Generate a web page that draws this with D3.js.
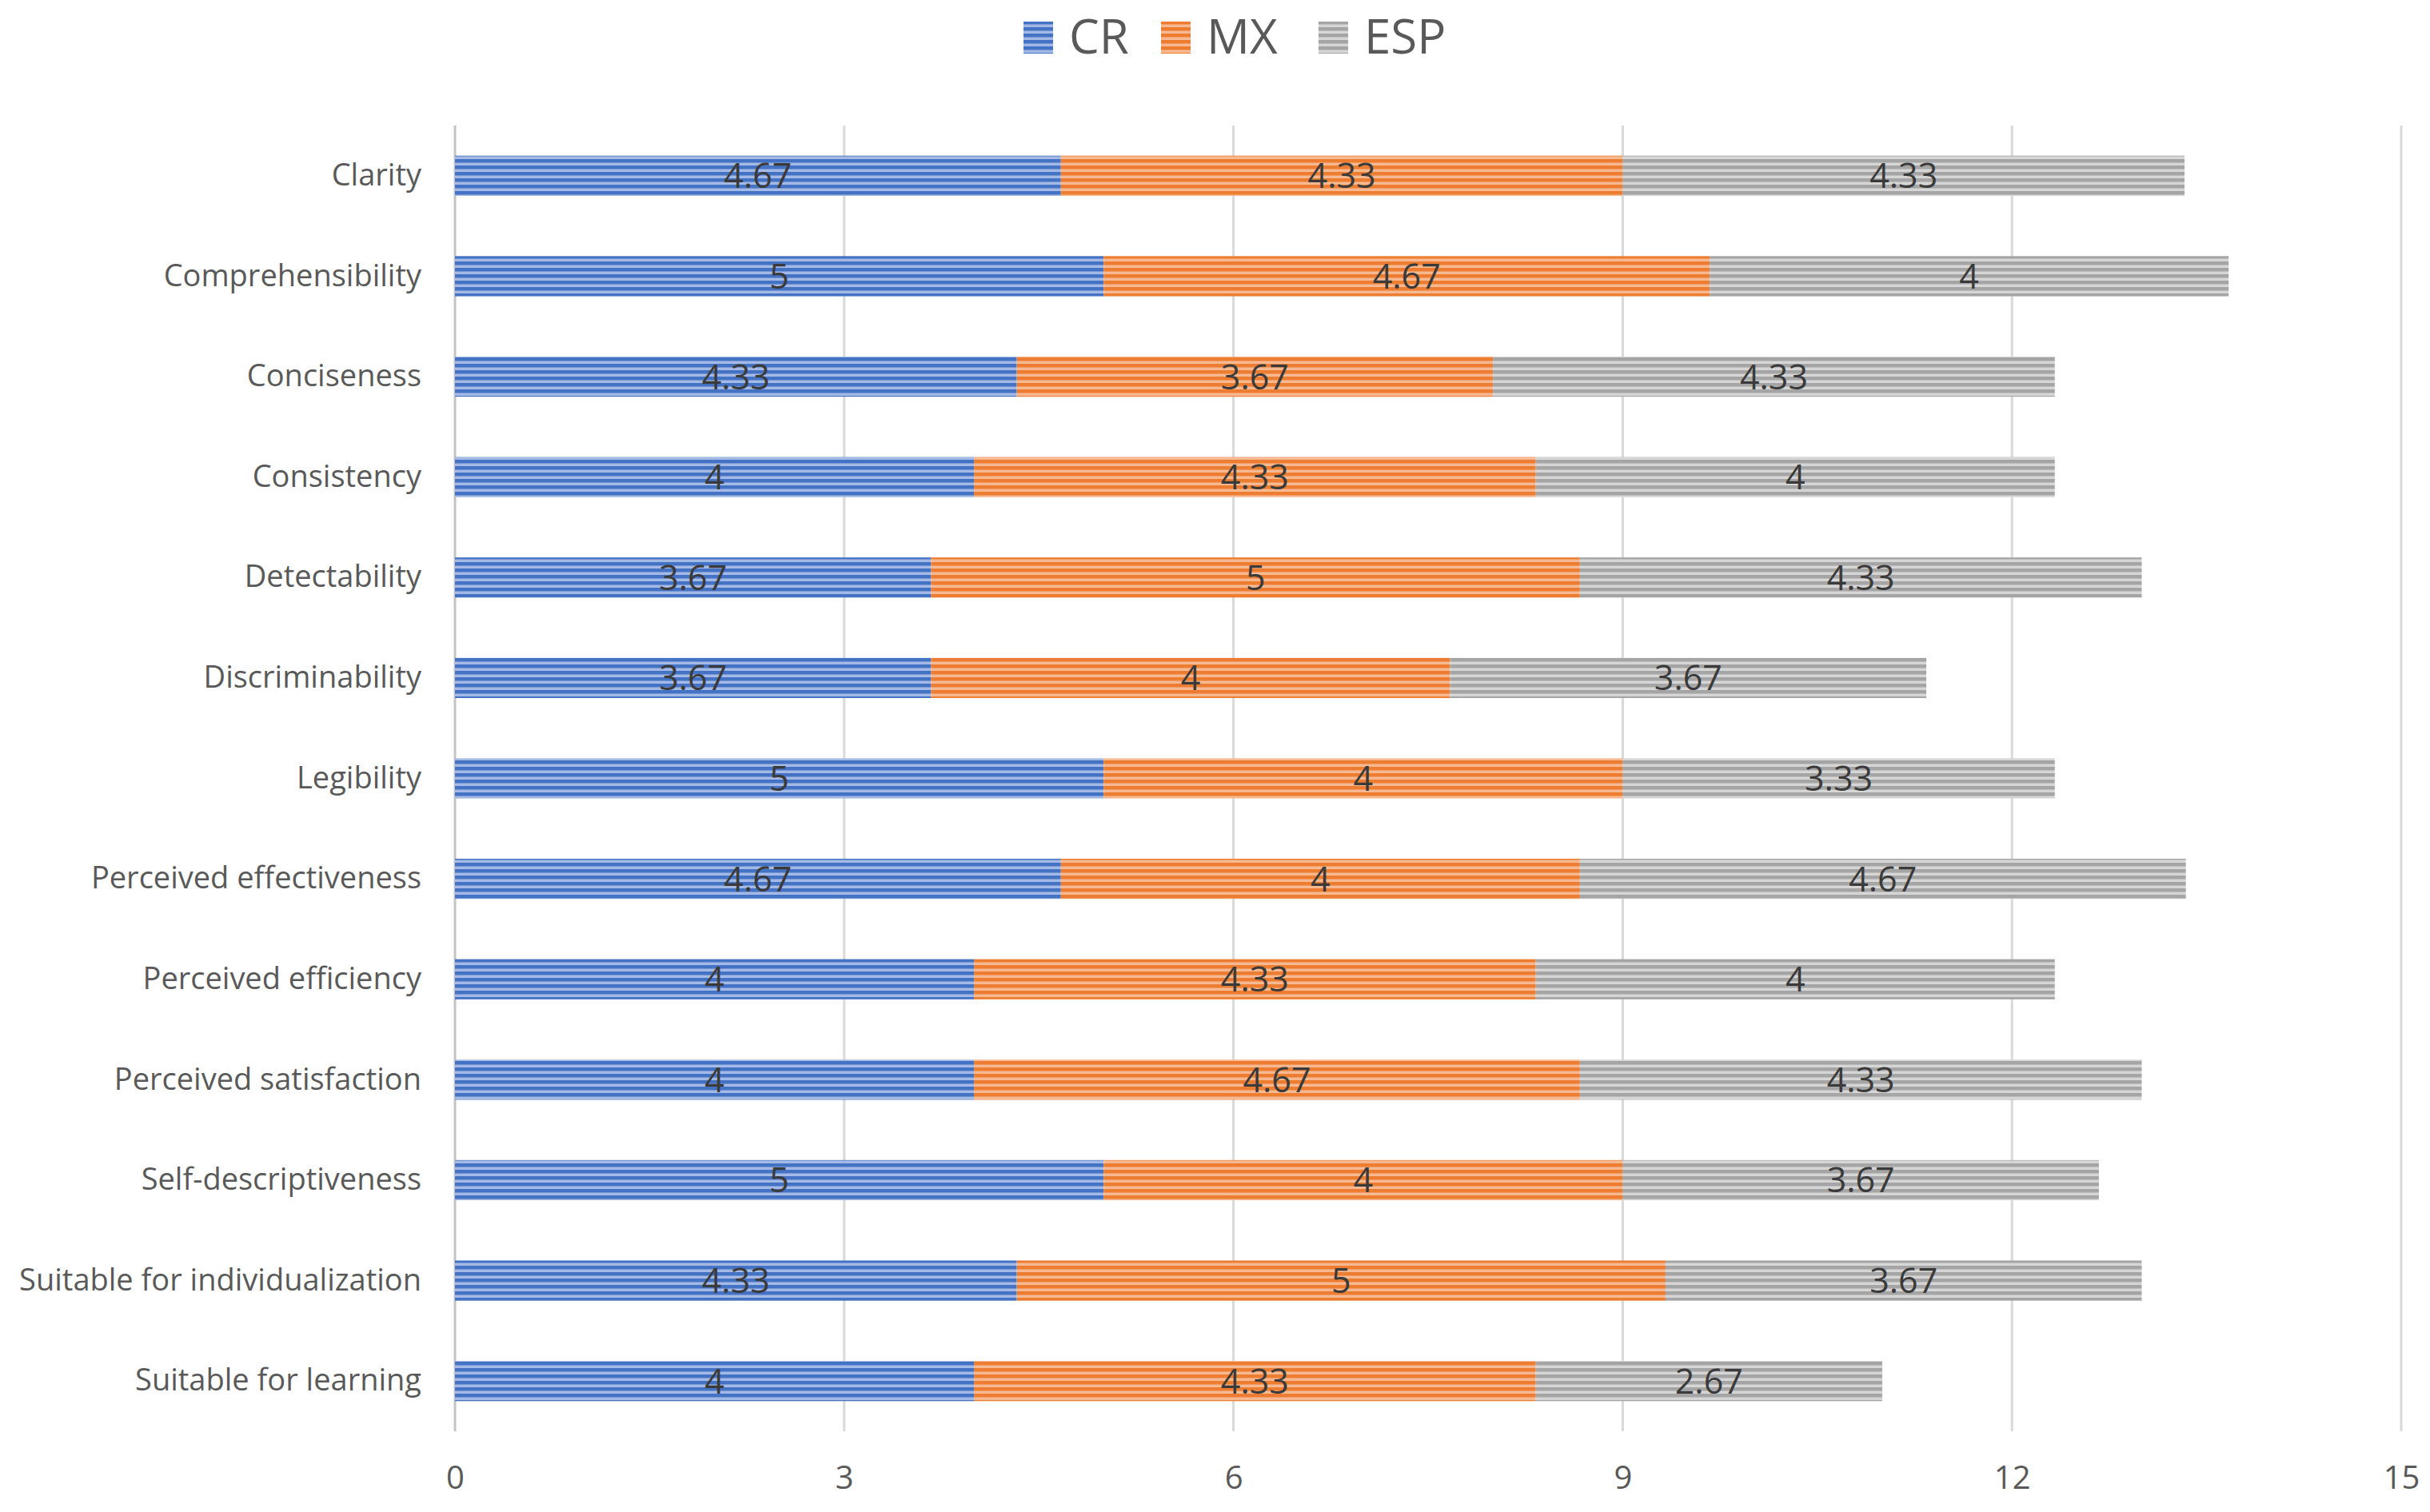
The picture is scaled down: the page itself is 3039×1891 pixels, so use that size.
<!DOCTYPE html>
<html>
<head>
<meta charset="utf-8">
<script src="https://cdn.jsdelivr.net/npm/d3@7"></script>
<style>
  body { margin: 0; background: #fff; }
  svg text { font-family: "Open Sans", "Noto Sans", sans-serif; }
</style>
</head>
<body>
<div id="chart"></div>
<script>
// chart values
const categories = ["Clarity", "Comprehensibility", "Conciseness", "Consistency", "Detectability",
  "Discriminability", "Legibility", "Perceived effectiveness", "Perceived efficiency",
  "Perceived satisfaction", "Self-descriptiveness", "Suitable for individualization", "Suitable for learning"];
const seriesNames = ["CR", "MX", "ESP"];
const crValues  = [4.67, 5, 4.33, 4, 3.67, 3.67, 5, 4.67, 4, 4, 5, 4.33, 4];
const mxValues  = [4.33, 4.67, 3.67, 4.33, 5, 4, 4, 4, 4.33, 4.67, 4, 5, 4.33];
const espValues = [4.33, 4, 4.33, 4, 4.33, 3.67, 3.33, 4.67, 4, 4.33, 3.67, 3.67, 2.67];
const xTicks = [0, 3, 6, 9, 12, 15];

const W = 3039, H = 1891;
const margin = {top: 157, right: 36, bottom: 101, left: 569};
const width = W - margin.left - margin.right,
      height = H - margin.top - margin.bottom;

const colors = {
  CR:  {dark: "#4472C4", light: "#A4B9E3"},
  MX:  {dark: "#ED7D31", light: "#F6B991"},
  ESP: {dark: "#A5A5A5", light: "#D6D6D6"}
};

const svg = d3.select("#chart").append("svg")
  .attr("width", W).attr("height", H);

// striped fills
const defs = svg.append("defs");
seriesNames.forEach(function(s){
  let p = defs.append("pattern")
    .attr("id", "pat-" + s)
    .attr("patternUnits", "userSpaceOnUse")
    .attr("width", 8).attr("height", 8);
  p.append("rect").attr("width", 8).attr("height", 8).attr("fill", colors[s].light);
  p.append("rect").attr("y", 2).attr("width", 8).attr("height", 4.5).attr("fill", colors[s].dark);
});

const g = svg.append("g")
  .attr("transform", "translate(" + margin.left + "," + margin.top + ")");

const x = d3.scaleLinear().domain([0, 15]).range([0, width]);
const y = d3.scaleBand().domain(categories).range([0, height]).paddingInner(0.6).paddingOuter(0.3);

// gridlines
g.selectAll(".grid").data(xTicks).enter().append("line")
  .attr("x1", d => x(d)).attr("x2", d => x(d))
  .attr("y1", 0).attr("y2", height)
  .attr("stroke", d => d === 0 ? "#C4C4C4" : "#D9D9D9")
  .attr("stroke-width", 3);

// x axis labels
const xAxis = d3.axisBottom(x).tickValues(xTicks).tickSize(0).tickPadding(44);
g.append("g")
  .attr("transform", "translate(0," + height + ")")
  .call(xAxis)
  .call(a => a.select(".domain").remove())
  .selectAll("text")
  .attr("font-size", 40).attr("fill", "#595959");

// y axis labels
const yAxis = d3.axisLeft(y).tickSize(0).tickPadding(42);
g.append("g")
  .call(yAxis)
  .call(a => a.select(".domain").remove())
  .selectAll("text")
  .attr("font-size", 38).attr("fill", "#595959");

// stack the series
const rows = categories.map(function(c, i){
  return {name: c, CR: crValues[i], MX: mxValues[i], ESP: espValues[i]};
});
const stacked = d3.stack().keys(seriesNames)(rows);

const layers = g.selectAll(".layer").data(stacked).enter().append("g")
  .attr("class", "layer")
  .attr("fill", d => "url(#pat-" + d.key + ")");

layers.selectAll("rect").data(d => d).enter().append("rect")
  .attr("x", d => x(d[0]))
  .attr("y", d => y(d.data.name))
  .attr("width", d => x(d[1]) - x(d[0]))
  .attr("height", y.bandwidth());

layers.selectAll("text").data(d => d.map(v => ({v: v, key: d.key}))).enter().append("text")
  .attr("x", d => (x(d.v[0]) + x(d.v[1])) / 2)
  .attr("y", d => y(d.v.data.name) + y.bandwidth() / 2)
  .attr("dy", "0.36em")
  .attr("text-anchor", "middle")
  .attr("font-size", 43)
  .attr("fill", "#3A3A3A")
  .text(d => d.v.data[d.key]);

// legend
const legendX = [1280, 1452, 1649];
const legend = svg.append("g");
seriesNames.forEach(function(s, i){
  legend.append("rect")
    .attr("x", legendX[i]).attr("y", 27)
    .attr("width", 37).attr("height", 40)
    .attr("fill", "url(#pat-" + s + ")");
  legend.append("text")
    .attr("x", legendX[i] + 57).attr("y", 67)
    .attr("font-size", 60).attr("fill", "#595959")
    .text(s);
});
</script>
</body>
</html>
